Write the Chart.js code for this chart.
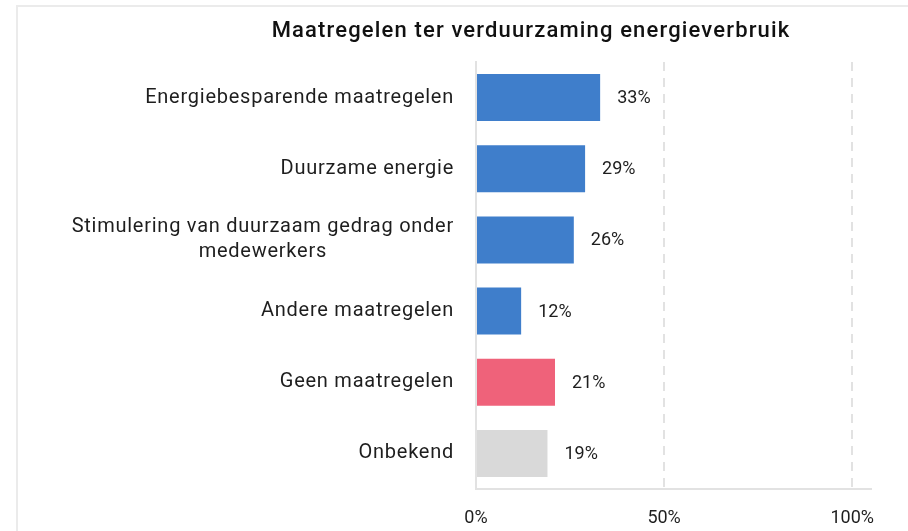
<!DOCTYPE html>
<html>
<head>
<meta charset="utf-8">
<script src="https://cdn.jsdelivr.net/npm/chart.js@4"></script>
<style>
  html, body { margin: 0; padding: 0; background: #fff; overflow: hidden; }
  #wrap { position: absolute; left: 0; top: 0; width: 908px; height: 531px; }
  #frame { position: absolute; left: 16px; top: 5px; width: 900px; height: 540px;
           border-left: 2px solid #ebebeb; border-top: 2px solid #ebebeb; }
  canvas { position: absolute; left: 0; top: 0; }
</style>
</head>
<body>
<div id="wrap">
  <div id="frame"></div>
  <canvas id="c" width="908" height="531"></canvas>
</div>
<script>
const titleText = "Maatregelen ter verduurzaming energieverbruik";
const categories = [
  "Energiebesparende maatregelen",
  "Duurzame energie",
  ["Stimulering van duurzaam gedrag onder", "medewerkers"],
  "Andere maatregelen",
  "Geen maatregelen",
  "Onbekend"
];
const values = [33, 29, 26, 12, 21, 19];
const tickValues = [0, 50, 100];
const tickLabels = ["0%", "50%", "100%"];
const barColors = ["#3f7ecb", "#3f7ecb", "#3f7ecb", "#3f7ecb", "#ef627a", "#d9d9d9"];

const FONT = "Roboto";
const TEXT = "#1e1e1e";

const titlePlugin = {
  id: "titleDraw",
  afterDraw(chart) {
    const ctx = chart.ctx;
    ctx.save();
    ctx.font = "500 22px " + FONT;
    ctx.letterSpacing = "1.15px";
    ctx.fillStyle = "#111";
    ctx.textAlign = "center";
    ctx.textBaseline = "middle";
    ctx.fillText(titleText, 531, 31);
    ctx.restore();
  }
};

const catLabelPlugin = {
  id: "catLabels",
  afterDraw(chart) {
    const ctx = chart.ctx;
    const ys = chart.scales.y;
    ctx.save();
    ctx.font = "20px " + FONT;
    ctx.letterSpacing = "0.75px";
    ctx.fillStyle = TEXT;
    ctx.textBaseline = "middle";
    const right = chart.chartArea.left - 22;
    const lh = 25;
    categories.forEach((lab, i) => {
      const lines = Array.isArray(lab) ? lab : [lab];
      const y = ys.getPixelForTick(i);
      const maxW = Math.max(...lines.map(l => ctx.measureText(l).width));
      const startY = y - (lines.length - 1) * lh / 2;
      lines.forEach((l, j) => {
        if (lines.length > 1) {
          ctx.textAlign = "center";
          ctx.fillText(l, right - maxW / 2, startY + j * lh);
        } else {
          ctx.textAlign = "right";
          ctx.fillText(l, right, startY + j * lh);
        }
      });
    });
    ctx.restore();
  }
};

const valueLabelPlugin = {
  id: "valueLabels",
  afterDatasetsDraw(chart) {
    const ctx = chart.ctx;
    const meta = chart.getDatasetMeta(0);
    ctx.save();
    ctx.font = "18px " + FONT;
    ctx.fillStyle = TEXT;
    ctx.textAlign = "left";
    ctx.textBaseline = "middle";
    meta.data.forEach((bar, i) => {
      ctx.fillText(values[i] + "%", bar.x + 17, bar.y + 1);
    });
    ctx.restore();
  }
};

new Chart(document.getElementById("c"), {
  type: "bar",
  data: {
    labels: categories,
    datasets: [{
      data: values,
      backgroundColor: barColors,
      borderWidth: 0,
      barPercentage: 0.66,
      categoryPercentage: 1.0
    }]
  },
  options: {
    indexAxis: "y",
    responsive: false,
    animation: false,
    layout: { padding: { top: 62, right: 37, bottom: 0, left: 0 } },
    plugins: { legend: { display: false }, title: { display: false }, tooltip: { enabled: false } },
    scales: {
      x: {
        min: 0,
        max: 105,
        afterBuildTicks(scale) {
          scale.ticks = tickValues.map(v => ({ value: v }));
        },
        afterFit(scale) { scale.height = 42; },
        ticks: {
          callback: (v) => tickLabels[tickValues.indexOf(v)],
          font: { family: FONT, size: 18 },
          color: TEXT,
          padding: 19,
          maxRotation: 0
        },
        grid: { color: "#e2e2e2", lineWidth: 2, drawTicks: false },
        border: { display: true, color: "#e2e2e2", width: 2, dash: [9, 7] }
      },
      y: {
        afterFit(scale) { scale.width = 476; },
        ticks: { display: false },
        grid: { display: false, drawTicks: false },
        border: { display: true, color: "#e2e2e2", width: 2 }
      }
    }
  },
  plugins: [titlePlugin, catLabelPlugin, valueLabelPlugin]
});
</script>
</body>
</html>
